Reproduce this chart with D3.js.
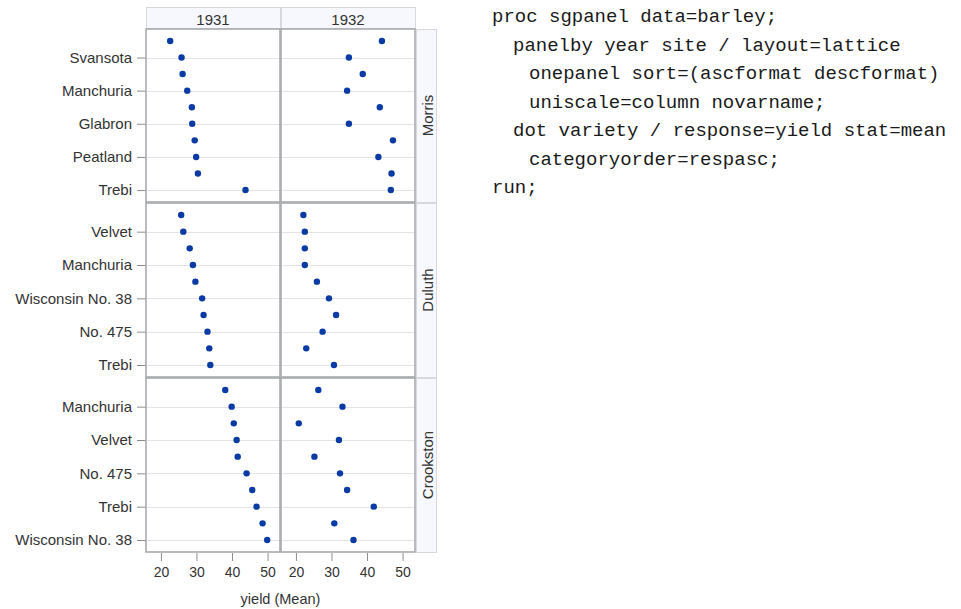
<!DOCTYPE html>
<html>
<head>
<meta charset="utf-8">
<script src="https://cdn.jsdelivr.net/npm/d3@7"></script>
<style>
  body { margin: 0; background: #fff; }
  text { font-family: "Liberation Sans", Arial, sans-serif; fill: #333; }
  .code { font-family: "Courier New", "Nimbus Mono PS", FreeMono, "Liberation Mono", monospace; font-size: 19px; fill: #1a1a1a; white-space: pre; }
</style>
</head>
<body>
<div class="canvas"></div>
<script>
// data
const years = ["1931", "1932"];
const sites = ["Morris", "Duluth", "Crookston"];

const morrisVarieties = ["No. 475", "Svansota", "Velvet", "Manchuria", "No. 457", "Glabron", "Wisconsin No. 38", "Peatland", "No. 462", "Trebi"];
const morris1931 = [22.6, 25.8, 26.1, 27.4, 28.7, 28.8, 29.5, 29.9, 30.4, 43.8];
const morris1932 = [44.2, 34.9, 38.8, 34.4, 43.6, 34.9, 47.3, 43.2, 46.9, 46.7];

const duluthVarieties = ["Svansota", "Velvet", "No. 462", "Manchuria", "Glabron", "Wisconsin No. 38", "Peatland", "No. 475", "No. 457", "Trebi"];
const duluth1931 = [25.7, 26.3, 28.1, 29.0, 29.7, 31.6, 32.0, 33.1, 33.6, 33.9];
const duluth1932 = [22.1, 22.5, 22.5, 22.5, 25.9, 29.3, 31.3, 27.5, 22.9, 30.7];

const crookstonVarieties = ["Glabron", "Manchuria", "Svansota", "Velvet", "Peatland", "No. 475", "No. 457", "Trebi", "No. 462", "Wisconsin No. 38"];
const crookston1931 = [38.1, 39.9, 40.5, 41.3, 41.6, 44.1, 45.7, 46.9, 48.6, 49.9];
const crookston1932 = [26.3, 33.1, 20.8, 32.1, 25.2, 32.4, 34.4, 41.9, 30.8, 36.2];

const xTicks = [20, 30, 40, 50];
const xLabel = "yield (Mean)";

const codeLines = [
  [0, "proc sgpanel data=barley;"],
  [1, "panelby year site / layout=lattice"],
  [2, "onepanel sort=(ascformat descformat)"],
  [2, "uniscale=column novarname;"],
  [1, "dot variety / response=yield stat=mean"],
  [2, "categoryorder=respasc;"],
  [0, "run;"]
];

const rows = [
  {site: sites[0], varieties: morrisVarieties, values: [morris1931, morris1932]},
  {site: sites[1], varieties: duluthVarieties, values: [duluth1931, duluth1932]},
  {site: sites[2], varieties: crookstonVarieties, values: [crookston1931, crookston1932]}
];

// layout
const colX = [[146, 280], [281, 415]];
const rowY = [[29, 202], [203, 377], [378, 552]];
const stripTop = 7;
const stripRight = [416, 436];
const dotColor = "#0a3aa3";

const svg = d3.select(".canvas").append("svg")
    .attr("width", 961)
    .attr("height", 609);

// one x scale per column (uniscale=column keeps them equal)
const xScales = colX.map(c => d3.scaleLinear().domain([15.8, 53.5]).range(c));

//column header strips
years.forEach((yr, j) => {
  svg.append("rect")
    .attr("x", colX[j][0] + 0.5).attr("y", stripTop + 0.5)
    .attr("width", colX[j][1] - colX[j][0]).attr("height", rowY[0][0] - stripTop - 1)
    .attr("fill", "#f6f8fd").attr("stroke", "#d6d8db");
  svg.append("text")
    .attr("x", (colX[j][0] + colX[j][1]) / 2)
    .attr("y", (stripTop + rowY[0][0]) / 2 + 1)
    .attr("text-anchor", "middle")
    .attr("dominant-baseline", "central")
    .style("font-size", "15px")
    .text(yr);
});

rows.forEach((row, i) => {
  const yScale = d3.scalePoint()
    .domain(row.varieties)
    .range(rowY[i])
    .padding(0.72);
  const shown = row.varieties.filter((d, k) => k % 2 === 1);

  //row strip on the right
  svg.append("rect")
    .attr("x", stripRight[0] + 0.5).attr("y", rowY[i][0] + 0.5)
    .attr("width", stripRight[1] - stripRight[0]).attr("height", rowY[i][1] - rowY[i][0])
    .attr("fill", "#f6f8fd").attr("stroke", "#d6d8db");
  const cy = (rowY[i][0] + rowY[i][1]) / 2;
  const cx = (stripRight[0] + stripRight[1]) / 2 + 1;
  svg.append("text")
    .attr("transform", `translate(${cx}, ${cy}) rotate(-90)`)
    .attr("text-anchor", "middle")
    .attr("dominant-baseline", "central")
    .style("font-size", "15px")
    .text(row.site);

  //left axis
  const yAxis = d3.axisLeft(yScale).tickValues(shown).tickSize(9).tickPadding(5);
  const yg = svg.append("g")
    .attr("transform", `translate(${colX[0][0]}, 0)`)
    .call(yAxis);
  yg.select(".domain").remove();
  yg.selectAll("line").attr("stroke", "#8a8d90");
  yg.selectAll("text").style("font-size", "15px").attr("fill", "#333").attr("font-family", null);

  years.forEach((yr, j) => {
    const x = xScales[j];
    const cell = svg.append("g");

    //grid lines at labelled rows
    cell.selectAll(".grid")
      .data(shown)
      .enter()
      .append("line")
      .attr("x1", colX[j][0]).attr("x2", colX[j][1])
      .attr("y1", d => Math.round(yScale(d)) + 0.5)
      .attr("y2", d => Math.round(yScale(d)) + 0.5)
      .attr("stroke", "#e4e4e4");

    //dots
    cell.selectAll("circle")
      .data(row.varieties)
      .enter()
      .append("circle")
      .attr("cx", (d, k) => x(row.values[j][k]))
      .attr("cy", d => yScale(d))
      .attr("r", 3.2)
      .attr("fill", dotColor);

    //cell frame
    cell.append("rect")
      .attr("x", colX[j][0]).attr("y", rowY[i][0])
      .attr("width", colX[j][1] - colX[j][0]).attr("height", rowY[i][1] - rowY[i][0])
      .attr("fill", "none")
      .attr("stroke", "#a8abae")
      .attr("stroke-width", 1.6);
  });
});

//bottom axes
xScales.forEach(x => {
  const xAxis = d3.axisBottom(x).tickValues(xTicks).tickSize(8).tickPadding(6);
  const xg = svg.append("g")
    .attr("transform", `translate(0, ${rowY[2][1] + 1})`)
    .call(xAxis);
  xg.select(".domain").remove();
  xg.selectAll("line").attr("stroke", "#8a8d90");
  xg.selectAll("text").style("font-size", "14px").attr("fill", "#333").attr("font-family", null);
});

//x axis title
svg.append("text")
  .attr("x", (colX[0][0] + colX[1][1]) / 2)
  .attr("y", 604)
  .attr("text-anchor", "middle")
  .style("font-size", "14.5px")
  .text(xLabel);

//code listing
const indentX = [492, 513, 529];
svg.selectAll(".code")
  .data(codeLines)
  .enter()
  .append("text")
  .attr("class", "code")
  .attr("x", d => indentX[d[0]])
  .attr("y", (d, i) => 22 + i * 28.5)
  .text(d => d[1]);
</script>
</body>
</html>
